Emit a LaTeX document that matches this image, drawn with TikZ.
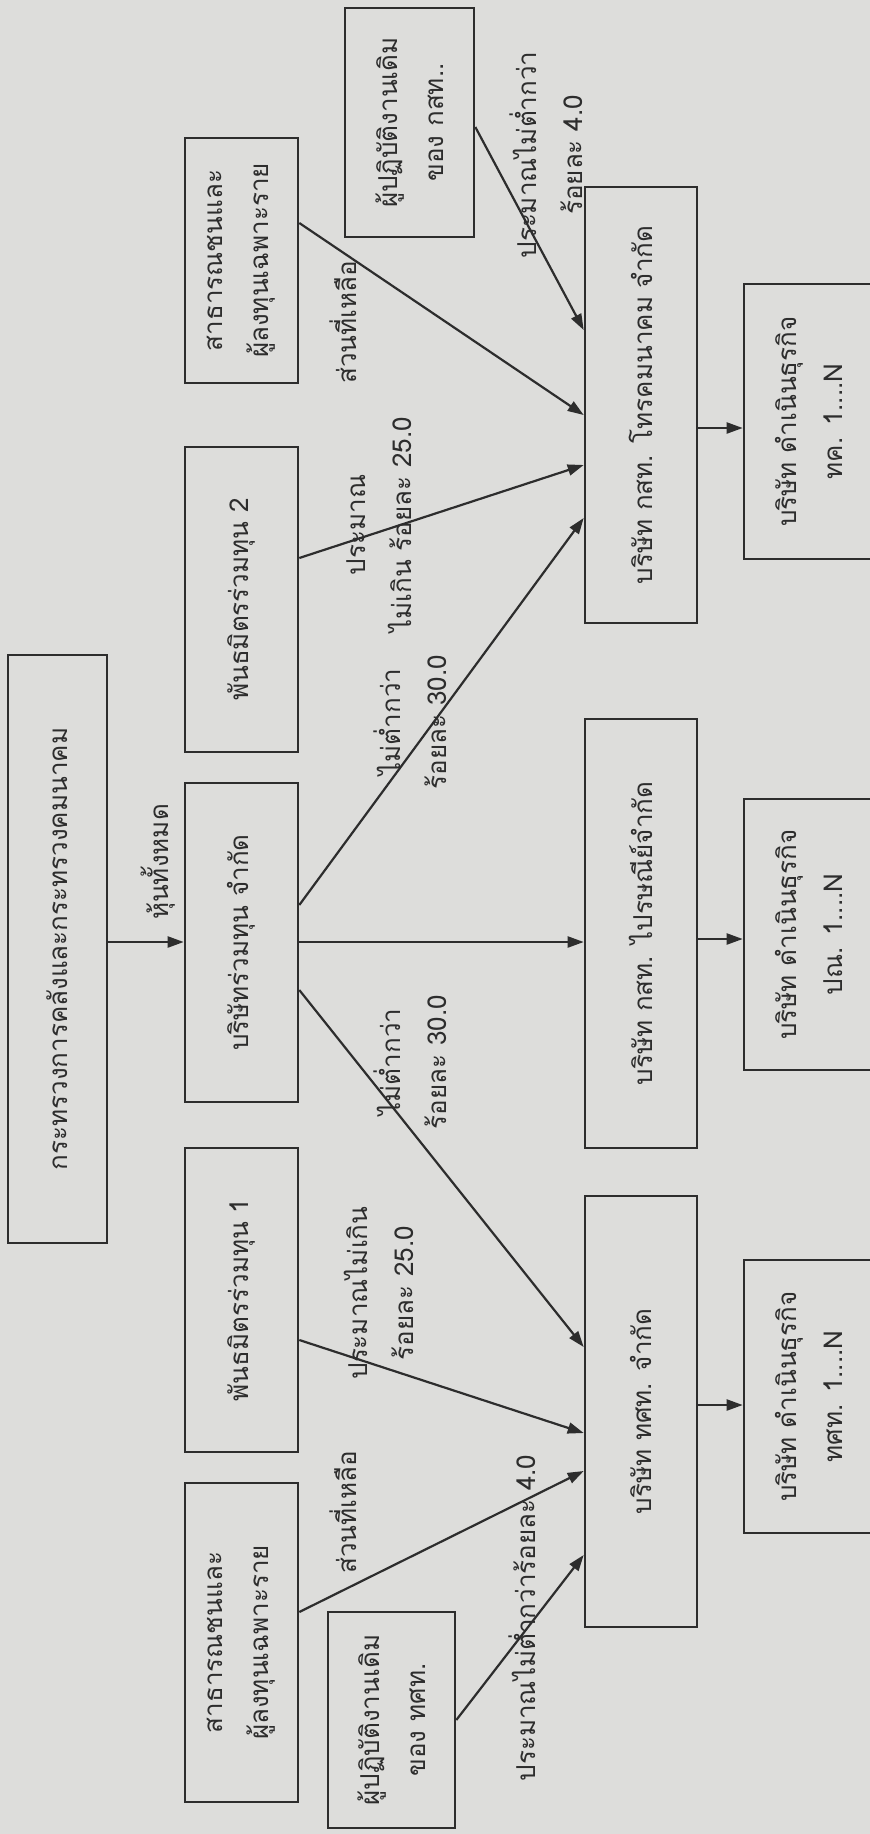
\documentclass[tikz,border=0pt]{standalone}
\usepackage{fontspec}
\newfontfamily\thaifont[Script=Thai]{Loma}
\usetikzlibrary{arrows.meta}
\definecolor{bg}{RGB}{221,221,219}
\definecolor{ink}{RGB}{45,45,45}
\begin{document}
\begin{tikzpicture}[x=1pt,y=-1pt,
  thaitxt/.style={font=\thaifont\fontsize{26}{46}\selectfont, text=ink},
  box/.style={thaitxt, draw=ink, line width=2.6pt, rotate=90, inner sep=0pt, align=center},
  lbl/.style={thaitxt, rotate=90, inner sep=1pt, align=center},
  conn/.style={draw=ink, line width=2.2pt, -{Triangle[length=16pt,width=11pt]}}]
\fill[bg] (0,0) rectangle (870,1834);
\useasboundingbox (0,0) rectangle (870,1834);
% boxes
\node[box, minimum width=588pt, minimum height=99pt] (gov) at (57.5,949) {กระทรวงการคลังและกระทรวงคมนาคม};
\node[box, minimum width=245pt, minimum height=113pt] (pub2) at (241.5,260.5) {สาธารณชนและ\\ผู้ลงทุนเฉพาะราย};
\node[box, minimum width=305pt, minimum height=113pt] (partner2) at (241.5,599.5) {พันธมิตรร่วมทุน 2};
\node[box, minimum width=319pt, minimum height=113pt] (jv) at (241.5,942.5) {บริษัทร่วมทุน จำกัด};
\node[box, minimum width=304pt, minimum height=113pt] (partner1) at (241.5,1300) {พันธมิตรร่วมทุน 1};
\node[box, minimum width=319pt, minimum height=113pt] (pub1) at (241.5,1642.5) {สาธารณชนและ\\ผู้ลงทุนเฉพาะราย};
\node[box, minimum width=216pt, minimum height=127pt] (emptot) at (391.5,1720) {ผู้ปฏิบัติงานเดิม\\ของ ทศท.};
\node[box, minimum width=229pt, minimum height=129pt] (empcat) at (409.5,122.5) {ผู้ปฏิบัติงานเดิม\\ของ กสท..};
\node[box, minimum width=436pt, minimum height=112pt] (cat) at (641,405) {บริษัท กสท. โทรคมนาคม จำกัด};
\node[box, minimum width=429pt, minimum height=112pt] (post) at (641,933.5) {บริษัท กสท. ไปรษณีย์จำกัด};
\node[box, minimum width=431pt, minimum height=112pt] (tot) at (641,1411.5) {บริษัท ทศท. จำกัด};
\node[box, minimum width=275pt, minimum height=130pt] (subcat) at (809,421.5) {บริษัท ดำเนินธุรกิจ\\ทค. 1....N};
\node[box, minimum width=271pt, minimum height=130pt] (subpost) at (809,934.5) {บริษัท ดำเนินธุรกิจ\\ปณ. 1....N};
\node[box, minimum width=273pt, minimum height=130pt] (subtot) at (809,1396.5) {บริษัท ดำเนินธุรกิจ\\ทศท. 1....N};
% labels
\node[lbl] (l0) at (158,862) {หุ้นทั้งหมด};
\node[lbl] (l1) at (546,155) {ประมาณไม่ต่ำกว่า\\ร้อยละ 4.0};
\node[lbl] (l2) at (343,322) {ส่วนที่เหลือ};
\node[lbl] (l3) at (379,525) {ประมาณ\\ไม่เกิน ร้อยละ 25.0};
\node[lbl] (l4) at (410,722) {ไม่ต่ำกว่า\\ร้อยละ 30.0};
\node[lbl] (l5) at (410,1062) {ไม่ต่ำกว่า\\ร้อยละ 30.0};
\node[lbl] (l6) at (379,1293) {ประมาณไม่เกิน\\ร้อยละ 25.0};
\node[lbl] (l7) at (343,1512) {ส่วนที่เหลือ};
\node[lbl] (l8) at (522,1618) {ประมาณไม่ต่ำกว่าร้อยละ 4.0};
% connectors
\draw[conn] (gov.south |- 0,942) -- (jv.north |- 0,942);
\draw[conn] (jv.south |- 0,942) -- (post.north |- 0,942);
\draw[conn] (jv.south |- 0,905) -- (cat.north |- 0,518);
\draw[conn] (jv.south |- 0,990) -- (tot.north |- 0,1347);
\draw[conn] (partner2.south |- 0,558) -- (cat.north |- 0,465);
\draw[conn] (pub2.south |- 0,223) -- (cat.north |- 0,415);
\draw[conn] (empcat.south |- 0,127) -- (cat.north |- 0,330);
\draw[conn] (partner1.south |- 0,1340) -- (tot.north |- 0,1433);
\draw[conn] (pub1.south |- 0,1612) -- (tot.north |- 0,1471);
\draw[conn] (emptot.south |- 0,1720) -- (tot.north |- 0,1555);
\draw[conn] (cat.south |- 0,428) -- (subcat.north |- 0,428);
\draw[conn] (post.south |- 0,939) -- (subpost.north |- 0,939);
\draw[conn] (tot.south |- 0,1405) -- (subtot.north |- 0,1405);
\end{tikzpicture}
\end{document}
